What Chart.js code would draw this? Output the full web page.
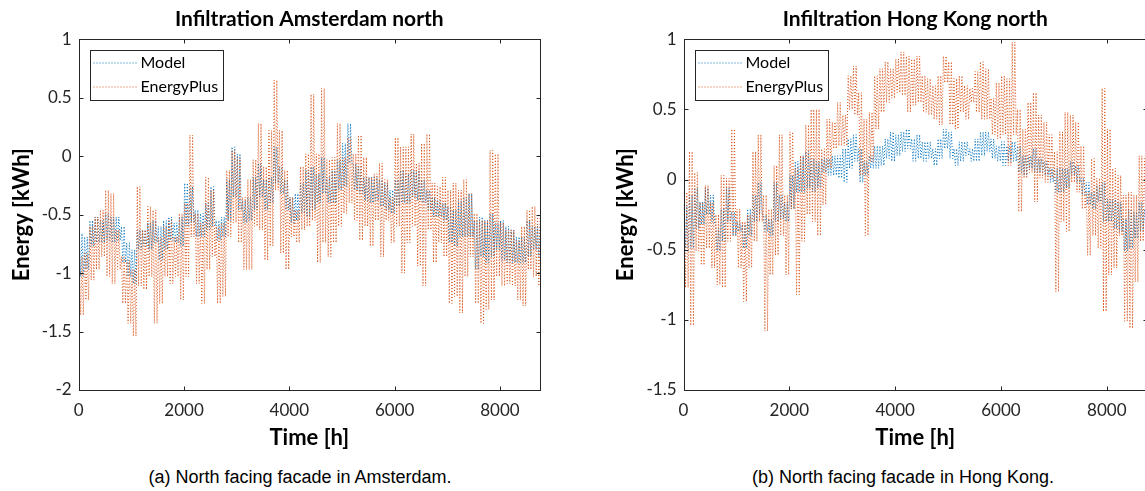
<!DOCTYPE html>
<html>
<head>
<meta charset="utf-8">
<script src="https://cdn.jsdelivr.net/npm/chart.js@4.4.1/dist/chart.umd.min.js"></script>
<style>
  html, body { margin: 0; padding: 0; background: #fff; overflow: hidden; }
  body { width: 1145px; height: 491px; position: relative; }
  canvas { position: absolute; top: 0; }
  #amsCanvas { left: 0; }
  #hkCanvas { left: 600px; }
  .caption { position: absolute; top: 467px; font: 18px 'Liberation Sans', Arial, sans-serif; color: #000; text-align: center; white-space: nowrap; }
</style>
</head>
<body>
<canvas id="amsCanvas" width="570" height="460"></canvas>
<canvas id="hkCanvas" width="577" height="460"></canvas>
<div class="caption" style="left:0;width:600px">(a) North facing facade in Amsterdam.</div>
<div class="caption" style="left:603px;width:600px">(b) North facing facade in Hong Kong.</div>
<script>
// hours at the start of each 100 h bin
const hours = [0,100,200,300,400,500,600,700,800,900,1000,1100,1200,1300,1400,1500,1600,1700,1800,1900,
  2000,2100,2200,2300,2400,2500,2600,2700,2800,2900,3000,3100,3200,3300,3400,3500,3600,3700,3800,3900,
  4000,4100,4200,4300,4400,4500,4600,4700,4800,4900,5000,5100,5200,5300,5400,5500,5600,5700,5800,5900,
  6000,6100,6200,6300,6400,6500,6600,6700,6800,6900,7000,7100,7200,7300,7400,7500,7600,7700,7800,7900,
  8000,8100,8200,8300,8400,8500,8600,8700]

const xTicks = [0, 2000, 4000, 6000, 8000]
const amsYTicks = [-2, -1.5, -1, -0.5, 0, 0.5, 1]
const hkYTicks = [-1.5, -1, -0.5, 0, 0.5, 1]
const seriesNames = ['Model', 'EnergyPlus']

// Amsterdam: daily high / low of each 100 h bin (kWh)
const amsModelHi = [-0.66,-0.69,-0.55,-0.52,-0.55,-0.49,-0.52,-0.52,-0.60,-0.74, -0.80,-0.63,-0.63,-0.57,-0.55,-0.60,-0.55,-0.52,-0.57,-0.52,
  -0.23,-0.26,-0.46,-0.49,-0.40,-0.26,-0.55,-0.52,-0.20,0.08, 0.02,-0.38,-0.35,-0.18,-0.06,-0.20,-0.18,0.08,-0.09,-0.20,
  -0.35,-0.32,-0.23,-0.12,-0.09,-0.15,-0.01,-0.18,-0.12,-0.03, 0.11,0.28,-0.06,-0.09,-0.18,-0.18,-0.18,-0.20,-0.23,-0.29,
  -0.20,-0.12,-0.15,-0.12,-0.12,-0.20,-0.29,-0.35,-0.38,-0.40, -0.43,-0.46,-0.38,-0.35,-0.32,-0.55,-0.52,-0.55,-0.49,-0.57,
  -0.55,-0.60,-0.63,-0.69,-0.69,-0.55,-0.60,-0.60]
const amsModelLo = [-1.03,-0.97,-0.77,-0.74,-0.74,-0.72,-0.74,-0.72,-0.91,-1.03, -1.09,-0.80,-0.77,-0.80,-0.74,-0.89,-0.80,-0.72,-0.74,-0.77,
  -0.60,-0.57,-0.69,-0.69,-0.63,-0.60,-0.72,-0.69,-0.55,-0.35, -0.46,-0.57,-0.55,-0.46,-0.35,-0.46,-0.40,-0.23,-0.32,-0.46,
  -0.57,-0.55,-0.49,-0.52,-0.46,-0.40,-0.32,-0.40,-0.40,-0.29, -0.26,-0.06,-0.29,-0.32,-0.38,-0.40,-0.38,-0.43,-0.46,-0.49,
  -0.43,-0.40,-0.40,-0.35,-0.38,-0.40,-0.46,-0.52,-0.52,-0.55, -0.74,-0.77,-0.69,-0.69,-0.69,-0.97,-0.86,-0.91,-0.86,-0.80,
  -0.89,-0.91,-0.91,-0.91,-0.91,-0.86,-0.80,-0.86]
const amsEplusHi = [-0.86,-0.83,-0.60,-0.52,-0.46,-0.29,-0.32,-0.63,-0.86,-0.89, -0.97,-0.26,-0.63,-0.43,-0.46,-0.69,-0.60,-0.55,-0.69,-0.49,
  -0.40,0.18,-0.49,-0.57,-0.18,-0.29,-0.60,-0.57,-0.12,0.05, -0.01,-0.35,-0.20,-0.03,0.28,-0.09,0.22,0.65,0.22,-0.12,
  -0.35,-0.46,-0.09,0.02,0.53,0.02,0.58,-0.03,-0.01,0.28, -0.01,0.16,0.02,0.18,-0.01,-0.18,-0.15,-0.06,-0.20,-0.35,
  0.16,0.08,0.08,0.19,-0.06,0.11,0.19,-0.23,-0.26,-0.18, -0.29,-0.23,-0.29,-0.20,-0.32,-0.49,-0.55,-0.55,0.05,0.02,
  -0.57,-0.63,-0.63,-0.72,-0.60,-0.46,-0.43,-0.52]
const amsEplusLo = [-1.36,-1.23,-1.06,-0.97,-0.86,-1.03,-1.09,-0.97,-1.26,-1.43, -1.54,-1.11,-1.14,-1.03,-1.43,-1.26,-1.03,-1.09,-1.03,-1.23,
  -1.03,-0.69,-1.09,-1.26,-0.97,-0.86,-1.26,-1.20,-0.69,-0.57, -0.74,-0.97,-0.97,-0.60,-0.63,-0.89,-0.77,-0.29,-0.83,-0.97,
  -0.69,-0.74,-0.63,-0.60,-0.55,-0.91,-0.74,-0.86,-0.74,-0.60, -0.49,-0.40,-0.55,-0.72,-0.60,-0.77,-0.55,-0.86,-0.55,-0.74,
  -0.60,-1.00,-0.74,-0.60,-0.94,-1.11,-0.63,-0.91,-0.74,-0.86, -1.26,-1.20,-1.34,-1.03,-0.86,-1.26,-1.43,-1.31,-1.23,-1.03,
  -1.11,-1.09,-1.11,-1.23,-1.28,-0.97,-1.03,-1.11]

// Hong Kong: daily high / low of each 100 h bin (kWh)
const hkModelHi = [-0.18,-0.11,-0.06,-0.16,-0.06,-0.11,-0.35,-0.21,-0.06,-0.23, -0.30,-0.32,-0.21,-0.11,-0.02,-0.25,-0.28,-0.02,-0.11,-0.16,
  0.03,0.13,0.17,0.20,0.15,0.13,0.15,0.15,0.17,0.17, 0.22,0.29,0.32,0.22,0.13,0.17,0.24,0.24,0.29,0.34,
  0.32,0.34,0.36,0.29,0.32,0.27,0.27,0.22,0.29,0.36, 0.34,0.22,0.27,0.27,0.22,0.29,0.34,0.34,0.29,0.24,
  0.27,0.24,0.27,0.24,0.17,0.17,0.22,0.15,0.13,0.08, 0.08,0.08,0.08,0.13,0.10,0.01,-0.02,-0.09,-0.04,-0.02,
  -0.14,-0.14,-0.16,-0.28,-0.21,-0.23,-0.16,-0.21]
const hkModelLo = [-0.49,-0.49,-0.35,-0.32,-0.25,-0.30,-0.51,-0.44,-0.30,-0.40, -0.37,-0.49,-0.40,-0.30,-0.25,-0.37,-0.40,-0.30,-0.28,-0.30,
  -0.21,-0.09,-0.09,-0.06,-0.09,-0.06,0.05,0.03,0.03,0.01, -0.02,0.08,0.13,-0.02,0.03,0.08,0.08,0.10,0.15,0.13,
  0.17,0.20,0.22,0.13,0.15,0.13,0.15,0.10,0.15,0.22, 0.15,0.10,0.13,0.17,0.13,0.13,0.17,0.20,0.15,0.13,
  0.10,0.13,0.13,0.05,0.03,0.08,0.05,0.05,0.03,-0.02, -0.09,-0.09,-0.06,0.03,-0.02,-0.11,-0.18,-0.21,-0.16,-0.30,
  -0.30,-0.35,-0.37,-0.51,-0.49,-0.42,-0.37,-0.35]
const hkEplusHi = [-0.09,0.20,0.05,-0.16,-0.04,-0.16,-0.25,0.03,0.01,0.36, -0.21,-0.30,-0.25,0.20,0.32,-0.11,-0.21,0.10,0.32,-0.11,
  0.34,0.08,0.17,0.39,0.50,0.50,0.22,0.43,0.41,0.55, 0.46,0.74,0.81,0.62,0.43,0.48,0.74,0.79,0.84,0.79,
  0.86,0.91,0.88,0.86,0.88,0.74,0.72,0.67,0.74,0.88, 0.84,0.72,0.74,0.67,0.65,0.77,0.84,0.79,0.58,0.69,
  0.74,0.72,0.98,0.50,0.36,0.55,0.62,0.46,0.41,0.32, 0.20,0.34,0.48,0.46,0.41,0.24,-0.09,0.15,0.01,0.65,
  0.36,0.08,0.03,-0.11,-0.09,-0.11,0.17,0.15]
const hkEplusLo = [-0.77,-1.04,-0.51,-0.61,-0.49,-0.63,-0.75,-0.77,-0.44,-0.40, -0.63,-0.87,-0.63,-0.44,-0.30,-1.08,-0.68,-0.54,-0.40,-0.68,
  -0.21,-0.82,-0.44,-0.25,-0.30,-0.40,-0.18,0.08,0.22,0.24, 0.24,0.50,0.46,0.03,-0.40,0.13,0.36,0.48,0.55,0.58,
  0.62,0.60,0.48,0.53,0.55,0.48,0.46,0.43,0.39,0.69, 0.39,0.36,0.48,0.43,0.55,0.48,0.43,0.43,0.32,0.29,
  0.32,0.10,0.32,-0.23,0.01,0.05,-0.16,0.01,-0.02,0.01, -0.80,-0.30,-0.37,-0.02,-0.09,-0.21,-0.54,-0.40,-0.49,-0.94,
  -0.68,-0.63,-0.40,-1.01,-1.06,-0.73,-0.44,-0.35]

const BLUE = '#0072BD'
const ORANGE = '#D95319'
const INK = '#262626'
const FONT = 'Lato'

// the hourly signal swings between the daily high and low inside each bin
function swing(hi, lo) {
  const pts = []
  hours.forEach((h, i) => {
    pts.push({ x: h + 12.5, y: hi[i] }, { x: h + 37.5, y: lo[i] }, { x: h + 62.5, y: hi[i] }, { x: h + 87.5, y: lo[i] })
  })
  return pts
}

// box round the axes with inward ticks, as in the original figure
const axesBox = {
  id: 'axesBox',
  afterDatasetsDraw(chart) {
    const { ctx, chartArea: a, scales: { x, y } } = chart
    const L = Math.round(a.left) + 0.5, R = Math.round(a.right) + 0.5
    const T = Math.round(a.top) + 0.5, B = Math.round(a.bottom) + 0.5
    ctx.save()
    ctx.strokeStyle = INK
    ctx.lineWidth = 1
    ctx.strokeRect(L, T, R - L, B - T)
    ctx.beginPath()
    x.ticks.forEach(t => {
      const px = Math.round(x.getPixelForValue(t.value)) + 0.5
      ctx.moveTo(px, B); ctx.lineTo(px, B - 4)
      ctx.moveTo(px, T); ctx.lineTo(px, T + 4)
    })
    y.ticks.forEach(t => {
      const py = Math.round(y.getPixelForValue(t.value)) + 0.5
      ctx.moveTo(L, py); ctx.lineTo(L + 4, py)
      ctx.moveTo(R, py); ctx.lineTo(R - 4, py)
    })
    ctx.stroke()
    ctx.restore()
  }
}

// legend box in the upper left corner of the axes
const cornerLegend = {
  id: 'cornerLegend',
  afterDraw(chart) {
    const { ctx, chartArea: a } = chart
    const bx = Math.round(a.left + 11) + 0.5, by = Math.round(a.top + 11) + 0.5
    ctx.save()
    ctx.fillStyle = '#fff'
    ctx.fillRect(bx, by, 133, 50)
    ctx.strokeStyle = INK
    ctx.lineWidth = 1
    ctx.strokeRect(bx, by, 133, 50)
    ctx.font = '16px ' + FONT
    ctx.textBaseline = 'middle'
    const ds = chart.data.datasets
    ;[ds[0], ds[1]].forEach((d, i) => {
      const ly = by + 12.5 + i * 24
      ctx.strokeStyle = d.borderColor
      ctx.setLineDash([1, 2])
      ctx.beginPath(); ctx.moveTo(bx + 3, ly); ctx.lineTo(bx + 47, ly); ctx.stroke()
      ctx.setLineDash([])
      ctx.fillStyle = '#000'
      ctx.fillText(d.label, bx + 50, ly)
    })
    ctx.restore()
  }
}

function makeChart(id, title, yMin, yMax, yTicks, yWidth, yTitlePad, model, eplus) {
  const tickFont = { family: FONT, size: 17 }
  const titleFont = { family: FONT, size: 21, weight: 'bold' }
  const labelFont = { family: FONT, size: 22, weight: 'bold' }
  return new Chart(document.getElementById(id), {
    type: 'line',
    data: {
      datasets: [
        { label: seriesNames[0], data: model, borderColor: BLUE, borderWidth: 1, borderDash: [1, 2], pointRadius: 0, order: 2 },
        { label: seriesNames[1], data: eplus, borderColor: ORANGE, borderWidth: 1, borderDash: [1, 2], pointRadius: 0, order: 1 }
      ]
    },
    options: {
      responsive: false,
      animation: false,
      layout: { padding: { left: 0, right: 30, top: 0, bottom: 0 } },
      plugins: {
        legend: { display: false },
        tooltip: { enabled: false },
        title: { display: true, text: title, color: '#000', font: titleFont, fullSize: false, padding: { top: 7, bottom: 7.1 } }
      },
      scales: {
        x: {
          type: 'linear', min: 0, max: 8760,
          grid: { display: false, drawTicks: false }, border: { display: false },
          afterBuildTicks: s => { s.ticks = xTicks.map(v => ({ value: v })) },
          afterFit: s => { s.height = 70 },
          ticks: { color: INK, font: tickFont, padding: 10.5, maxRotation: 0, autoSkip: false, callback: v => String(v) },
          title: { display: true, text: 'Time [h]', color: '#000', font: labelFont, padding: { top: 0, bottom: 8.8 } }
        },
        y: {
          type: 'linear', min: yMin, max: yMax,
          grid: { display: false, drawTicks: false }, border: { display: false },
          afterBuildTicks: s => { s.ticks = yTicks.map(v => ({ value: v })) },
          afterFit: s => { s.width = yWidth },
          ticks: { color: INK, font: tickFont, padding: 7, autoSkip: false, callback: v => String(v) },
          title: { display: true, text: 'Energy [kWh]', color: '#000', font: labelFont, padding: { top: yTitlePad, bottom: 0 } }
        }
      }
    },
    plugins: [axesBox, cornerLegend]
  })
}

makeChart('amsCanvas', 'Infiltration Amsterdam north', -2, 1, amsYTicks, 78.7, 8.8,
  swing(amsModelHi, amsModelLo), swing(amsEplusHi, amsEplusLo))
makeChart('hkCanvas', 'Infiltration Hong Kong north', -1.5, 1, hkYTicks, 83.5, 12.8,
  swing(hkModelHi, hkModelLo), swing(hkEplusHi, hkEplusLo))
</script>
</body>
</html>
